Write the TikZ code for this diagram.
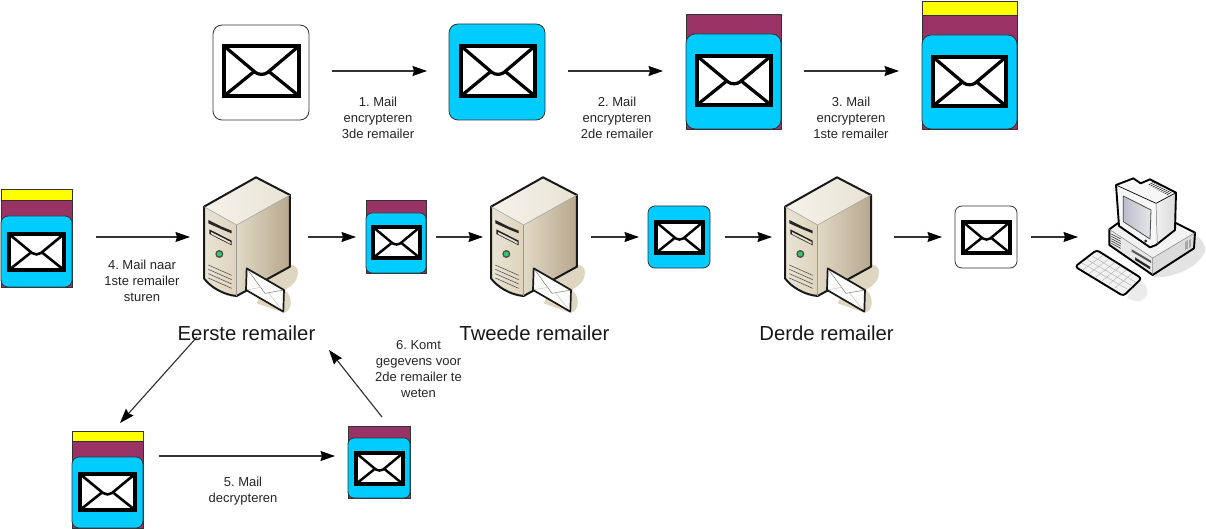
\documentclass[tikz,border=0pt]{standalone}
\usepackage{fontspec}
\setmainfont{Liberation Sans}
\usetikzlibrary{arrows.meta,calc}
\definecolor{mailblue}{HTML}{00CCFF}
\definecolor{mailpurple}{HTML}{993366}
\definecolor{mailyellow}{HTML}{FFFF00}
\definecolor{edgeink}{HTML}{333333}
\definecolor{tanshadow}{HTML}{DED6C0}
\tikzset{
  x=1pt,y=-1pt,
  arr/.style={draw=edgeink,line width=1.15pt,-{Stealth[length=14.5pt,width=10pt,inset=1.5pt,color=black]}},
  lbl/.style={font=\fontsize{13}{15.8}\selectfont\frenchspacing,text=black!85,align=center,inner sep=0pt},
  big/.style={font=\fontsize{20.3}{24}\selectfont,text=black!90,inner sep=0pt},
  ghost/.style={inner sep=0pt,outer sep=0pt,draw=none,minimum width=#1},
  bx/.style={draw=edgeink,line width=0.8pt},
  blue box/.style={bx,fill=mailblue,rounded corners=#1},
}
\newcommand{\envel}[5]{% x1,y1,x2,y2,lw
  \begin{scope}[x={({(#3-#1)*1pt},0pt)},y={(0pt,{(#4-#2)*-1pt})},shift={(#1pt,{#2*-1pt})}]
  \fill[white] (0,0) rectangle (1,1);
  \draw[line width=#5*0.72,black] (0,0) -- (.42,.53) .. controls (.47,.58) and (.53,.58) .. (.58,.53) -- (1,0);
  \draw[line width=#5*0.72,black] (0,1) -- (.41,.50) (1,1) -- (.59,.50);
  \draw[line width=#5,line join=miter,black] (0,0) rectangle (1,1);
  \end{scope}}
\newcommand{\serverpic}[1]{%
 \begin{scope}[shift={(#1,170)},x=0.3333pt,y=-0.3333pt]
  \fill[tanshadow] (235,330) .. controls (290,255) and (335,285) .. (322,320) .. controls (312,350) and (295,350) .. (285,360) .. controls (312,380) and (305,428) .. (280,428) -- (200,400) -- cycle;
  \shade[left color=white!70!tanshadow,right color=tanshadow!70!white] (42,110) -- (198,22) -- (300,75) -- (140,165) -- cycle;
  \shade[left color=tanshadow!65!white,right color=tanshadow!90!brown!90!white] (42,110) -- (140,165) -- (140,378) .. controls (100,375) and (60,350) .. (42,325) -- cycle;
  \shade[left color=tanshadow!92!white,right color=tanshadow!80!brown!85!black] (140,165) -- (300,75) -- (300,290) -- (140,378) -- cycle;
  \draw[line width=2pt,line join=round,black!90] (42,110) -- (198,22) -- (300,75) -- (300,290) -- (140,378) .. controls (100,375) and (60,350) .. (42,325) -- cycle;
  \draw[line width=0.6pt,black!35] (42,110) -- (140,165) -- (300,75);
  \draw[black!40,line width=0.5pt] (140,165) -- (140,378);
  \fill[black!85] (55,150) -- (95,170) -- (125,182) -- (125,190) -- (95,178) -- (55,160) -- cycle;
  \fill[black!85] (58,178) -- (125,212) -- (125,226) -- (58,192) -- cycle;
  \fill[tanshadow!70!white] (63,186) -- (122,216) -- (122,222) -- (63,192) -- cycle;
  \fill[black!70] (88,252) circle (12);
  \fill[green!45!teal!80!white] (88,252) circle (7.5);
  \foreach \d in {0,13,26,39} \draw[black!70,line width=0.55pt] (55,{285+\d}) -- (125,{316+\d});
  \fill[white!92!tanshadow] (170,295) -- (282,360) -- (280,425) -- (168,360) -- cycle;
  \draw[black!50,line width=0.5pt] (170,295) -- (225,370) -- (282,360);
  \draw[black!25,line width=0.4pt] (168,360) -- (212,352) (280,425) -- (235,368);
  \draw[line width=1.7pt,line join=round,black!90] (170,295) -- (282,360) -- (280,425) -- (168,360) -- cycle;
 \end{scope}}
\begin{document}
\begin{tikzpicture}
\useasboundingbox (0,0) rectangle (1206,529);
\fill[white] (0,0) rectangle (1206,529);
% Row 1 icons
\draw[bx,fill=white,rounded corners=9pt] (213,25) rectangle (309,120);
\node[ghost=96pt,minimum height=95pt] (m1) at (261,72.5) {};
\envel{224}{46}{299}{96}{4.5pt}
\draw[blue box=9pt] (449,24) rectangle (545,120);
\node[ghost=96pt,minimum height=96pt] (m2) at (497,72) {};
\envel{461}{46}{535}{96}{4.5pt}
\draw[bx,fill=mailpurple] (686,14) rectangle (781,129);
\draw[blue box=9pt] (686,34) rectangle (781,129);
\node[ghost=95pt,minimum height=115pt] (m3) at (733.5,71.5) {};
\envel{697}{56}{771}{105}{4.5pt}
\draw[bx,fill=mailyellow] (922,1) rectangle (1017,15);
\draw[bx,fill=mailpurple] (922,15) rectangle (1017,129);
\draw[blue box=9pt] (922,35) rectangle (1017,129);
\node[ghost=95pt,minimum height=128pt] (m4) at (969.5,65) {};
\envel{933}{57}{1006}{106}{4.5pt}
% Row 2 icons
\draw[bx,fill=mailyellow] (1,189) rectangle (72,200);
\draw[bx,fill=mailpurple] (1,200) rectangle (72,287);
\draw[blue box=7pt] (1,216) rectangle (72,287);
\node[ghost=71pt,minimum height=98pt] (c0) at (36.5,238) {};
\envel{9}{234}{64}{270}{3.6pt}
\draw[bx,fill=mailpurple] (366,200) rectangle (426,273);
\draw[blue box=6pt] (366,213) rectangle (426,273);
\node[ghost=60pt,minimum height=73pt] (c1) at (396,236.5) {};
\envel{373}{227}{420}{258}{3.4pt}
\draw[blue box=7pt] (648,206) rectangle (710,268);
\node[ghost=62pt,minimum height=62pt] (c2) at (679,237) {};
\envel{656}{222}{703}{253}{3.4pt}
\draw[bx,fill=white,rounded corners=7pt] (955,206) rectangle (1017,268);
\node[ghost=62pt,minimum height=62pt] (c3) at (986,237) {};
\envel{963}{222}{1010}{253}{3.4pt}
% Row 3 icons
\draw[bx,fill=mailyellow] (72,431) rectangle (143,441);
\draw[bx,fill=mailpurple] (72,441) rectangle (143,528);
\draw[blue box=7pt] (72,457) rectangle (143,528);
\node[ghost=71pt,minimum height=97pt] (b1) at (107.5,479.5) {};
\envel{80}{474}{135}{510}{3.6pt}
\draw[bx,fill=mailpurple] (348,426) rectangle (410,498);
\draw[blue box=6pt] (348,438) rectangle (410,498);
\node[ghost=62pt,minimum height=72pt] (b2) at (379,462) {};
\envel{356}{453}{403}{484}{3.4pt}
% Servers
\serverpic{190}\serverpic{477}\serverpic{771}
\node[ghost=86pt,minimum height=135pt] (s1) at (247,244) {};
\node[ghost=86pt,minimum height=135pt] (s2) at (534,244) {};
\node[ghost=86pt,minimum height=135pt] (s3) at (828,244) {};
% Computer
\begin{scope}[shift={(1070,170)},x=0.3333pt,y=-0.3333pt]
 \fill[black!11] (250,322) .. controls (300,325) and (380,300) .. (405,245) .. controls (408,225) and (395,205) .. (375,195) -- (250,270) -- cycle;
 \fill[black!8] (170,385) -- (205,395) .. controls (235,385) and (240,365) .. (225,345) -- (205,325) -- cycle;
 % base
 \fill[white!95!black] (118,178) -- (150,155) -- (315,158) -- (375,188) -- (248,264) -- cycle;
 \fill[black!9] (118,178) -- (248,264) -- (248,315) -- (118,225) -- cycle;
 \fill[black!14] (248,264) -- (375,188) -- (372,235) -- (248,315) -- cycle;
 \draw[line width=1.9pt,line join=round] (150,155) -- (118,178) -- (118,225) -- (248,315) -- (372,235) -- (375,188) -- (315,158);
 \draw[line width=0.5pt,black!50] (118,178) -- (248,264) -- (375,188) (248,264) -- (248,315);
 \foreach \d in {0,7,14,21,28} \draw[black!75,line width=0.6pt] (124,{192+\d}) -- (152,{207+\d});
 \fill[black!65] (185,238) -- (243,272) -- (243,279) -- (185,245) -- cycle;
 \fill[black!85] (195,262) -- (240,290) -- (240,298) -- (195,270) -- cycle;
 \foreach \d in {0,4,8,12,16} \draw[black!35,line width=0.4pt] ({345+\d},{215-\d*.5}) -- ({345+\d},{240-\d*.5});
 % monitor
 \fill[white!97!black] (138,45) -- (190,25) -- (212,40) -- (240,28) -- (315,68) -- (258,100) -- cycle;
 \shade[left color=black!6,right color=black!14] (258,100) -- (318,68) -- (315,180) -- (258,225) -- cycle;
 \fill[white!97!black] (138,45) -- (258,100) -- (262,222) -- (240,232) -- (147,168) -- cycle;
 \shade[left color=white!70!blue!35!gray!60!white,right color=white!90!blue!40!gray!30!white] (160,78) -- (243,120) -- (240,207) -- (160,155) -- cycle;
 \draw[line width=0.8pt,black!70,line join=round] (160,78) -- (243,120) -- (240,207) -- (160,155) -- cycle;
 \draw[line width=1.9pt,line join=round] (147,168) -- (138,45) -- (190,25) -- (212,40) -- (240,28) -- (318,68) -- (315,180) -- (258,225) -- (240,232) -- cycle;
 \draw[line width=0.7pt] (138,45) -- (258,100) -- (318,68);
 \draw[line width=0.5pt,black!55] (258,100) -- (262,222);
 \foreach \d in {0,6,12,18,24,30,36,42,48,54} \draw[black!80,line width=0.7pt] ({236+\d},{45+\d*.55}) -- ({250+\d},{37+\d*.55});
 \fill[black!80] (227,213) circle (5);
 % keyboard
 \path[fill=white!95!black,draw=black,line width=1.9pt,line join=round,rounded corners=3pt] (15,290) -- (80,240) -- (215,325) -- (160,378) -- cycle;
 \foreach \t in {0.12,0.26,0.4,0.54,0.68,0.82}
   \draw[black!30,line width=0.45pt] ($(22,290)!\t!(160,368)$) -- ($(82,248)!\t!(208,325)$);
 \foreach \t in {0.25,0.5,0.75}
   \draw[black!30,line width=0.45pt] ($(22,290)!\t!(82,248)$) -- ($(160,368)!\t!(208,325)$);
\end{scope}
\node[ghost=121pt,minimum height=95pt] (pc) at (1145.5,232) {};
% free ends and rows
\coordinate (rowa) at (0,71);
\coordinate (rowb) at (0,237);
\coordinate (rowc) at (0,456);
\coordinate (d1s) at (197,337);
\coordinate (d1e) at (120,423);
\coordinate (d2s) at (382,417);
\coordinate (d2e) at (329,350);
% connectors
\draw[arr,shorten <=23pt,shorten >=22pt] (m1.east|-rowa) -- (m2.west|-rowa);
\draw[arr,shorten <=23pt,shorten >=23pt] (m2.east|-rowa) -- (m3.west|-rowa);
\draw[arr,shorten <=23pt,shorten >=23pt] (m3.east|-rowa) -- (m4.west|-rowa);
\draw[arr,shorten <=24pt,shorten >=14pt] (c0.east|-rowb) -- (s1.west|-rowb);
\draw[arr,shorten <=18pt,shorten >=10pt] (s1.east|-rowb) -- (c1.west|-rowb);
\draw[arr,shorten <=10pt,shorten >=8pt] (c1.east|-rowb) -- (s2.west|-rowb);
\draw[arr,shorten <=14pt,shorten >=9pt] (s2.east|-rowb) -- (c2.west|-rowb);
\draw[arr,shorten <=15pt,shorten >=13pt] (c2.east|-rowb) -- (s3.west|-rowb);
\draw[arr,shorten <=23pt,shorten >=13pt] (s3.east|-rowb) -- (c3.west|-rowb);
\draw[arr,shorten <=14pt,shorten >=7pt] (c3.east|-rowb) -- (pc.west|-rowb);
\draw[arr] (d1s) -- (d1e);
\draw[arr,shorten <=16pt,shorten >=13pt] (b1.east|-rowc) -- (b2.west|-rowc);
\draw[arr] (d2s) -- (d2e);
% labels
\node[lbl] (t1) at (378,118) {1. Mail\\encrypteren\\3de remailer};
\node[lbl] (t2) at (617,118) {2. Mail\\encrypteren\\2de remailer};
\node[lbl] (t3) at (851,118) {3. Mail\\encrypteren\\1ste remailer};
\node[lbl] (t4) at (142,281) {4. Mail naar\\1ste remailer\\sturen};
\node[lbl] (t5) at (243,491) {5. Mail\\decrypteren};
\node[lbl] (t6) at (418.5,369) {6. Komt\\gegevens voor\\2de remailer te\\weten};
\node[big] (l1) at (246.5,333) {Eerste remailer};
\node[big] (l2) at (534.5,333) {Tweede remailer};
\node[big] (l3) at (826.5,333) {Derde remailer};
\end{tikzpicture}
\end{document}
